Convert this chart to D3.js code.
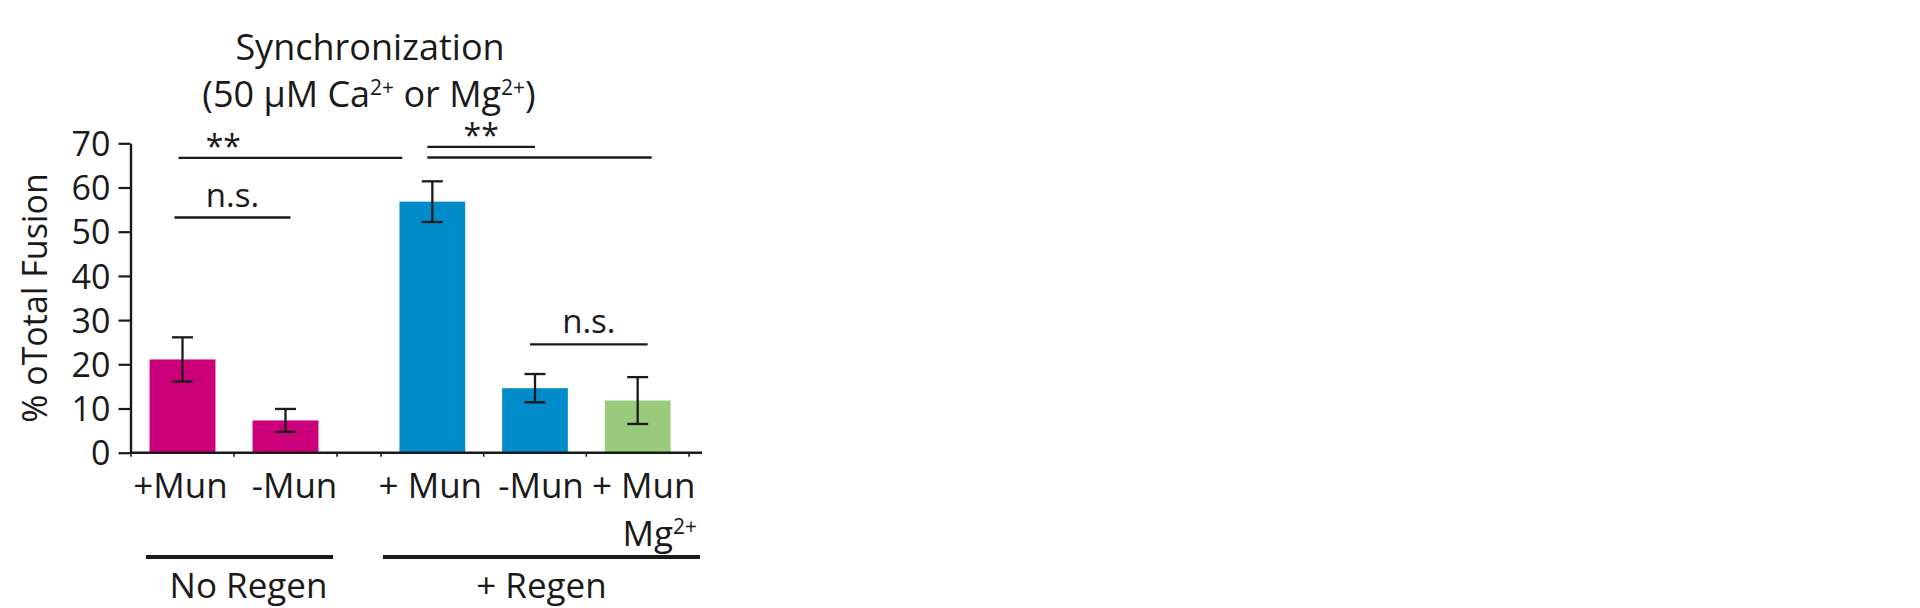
<!DOCTYPE html>
<html>
<head>
<meta charset="utf-8">
<script src="https://cdn.jsdelivr.net/npm/d3@7"></script>
<style>
  body { margin: 0; background: #fff; }
  text { font-family: "Open Sans", "Noto Sans", sans-serif; fill: #1a1a1a; }
</style>
</head>
<body>
<script>
// ---- data ----
const categories = ['+Mun', '-Mun', '+ Mun', '-Mun', '+ Mun'];
const groups     = ['No Regen', 'No Regen', '+ Regen', '+ Regen', '+ Regen'];
const conditions = ['ca', 'ca', 'caRegen', 'caRegen', 'mg'];
const values     = [21.1, 7.3, 56.8, 14.6, 11.8];   // % total fusion
const errors     = [5.0, 2.6, 4.6, 3.2, 5.3];
const groupNames = ['No Regen', '+ Regen'];
const yTicks     = [0, 10, 20, 30, 40, 50, 60, 70];

// significance brackets: bar index from / to, height (in % units), label
const sigFrom   = [0, 2, 2, 0, 3];
const sigTo     = [2, 3, 4, 1, 4];
const sigLevel  = [66.7, 69.2, 66.8, 53.2, 24.5];
const sigLabels = ['**', '**', '', 'n.s.', 'n.s.'];

// ---- layout ----
const W = 1920, H = 608;
const colors = { ca: '#cc007a', caRegen: '#008ccb', mg: '#9acb7c' };
const groupRange = { 'No Regen': [131, 337], '+ Regen': [381, 689] };
const sigPad = [[-4, -30], [-5, 0], [-5, 14], [-8, 5], [-5, 10]];  // line end nudges (px)
const sigLabelAt = [0.2, 0.5, 0.5, 0.5, 0.5];                        // label position along line
const labelNudge = [-2, 9, -2, 6, 6];
const groupLabelNudge = [9, 0];

const svg = d3.select('body').append('svg')
  .attr('width', W).attr('height', H);

const y = d3.scaleLinear().domain([0, 70]).range([452.7, 143.3]);

const idx = values.map((d, i) => i);
const xs = {};
groupNames.forEach(g => {
  xs[g] = d3.scaleBand()
    .domain(idx.filter(i => groups[i] === g))
    .range(groupRange[g])
    .paddingInner(0.36)
    .paddingOuter(0.18);
});
const bx = i => xs[groups[i]](i);
const bw = i => xs[groups[i]].bandwidth();
const cx = i => bx(i) + bw(i) / 2;

// ---- title ----
svg.append('text')
  .attr('x', 370).attr('y', 60)
  .attr('text-anchor', 'middle')
  .style('font-size', '36px')
  .text('Synchronization');

const sub = svg.append('text')
  .attr('x', 369).attr('y', 107)
  .attr('text-anchor', 'middle')
  .style('font-size', '36px');
sub.append('tspan').text('(50 \u03bcM Ca');
sub.append('tspan').attr('dy', -12).style('font-size', '21px').text('2+');
sub.append('tspan').attr('dy', 12).text(' or Mg');
sub.append('tspan').attr('dy', -12).style('font-size', '21px').text('2+');
sub.append('tspan').attr('dy', 12).text(')');

// ---- y axis ----
const yAxis = svg.append('g')
  .attr('transform', 'translate(130.5,0)')
  .call(d3.axisLeft(y).tickValues(yTicks).tickSize(12).tickPadding(8).tickSizeOuter(0));
yAxis.select('.domain').attr('stroke', '#1a1a1a').attr('stroke-width', 2.4);
yAxis.selectAll('.tick line').attr('stroke', '#1a1a1a').attr('stroke-width', 2.2);
yAxis.selectAll('.tick text')
  .style('font-family', '"Open Sans", sans-serif')
  .style('font-size', '34px')
  .attr('fill', '#1a1a1a')
  .attr('dy', '0.36em');

svg.append('text')
  .attr('transform', 'translate(47,298) rotate(-90)')
  .attr('text-anchor', 'middle')
  .style('font-size', '34px')
  .text('% oTotal Fusion');

// ---- bars ----
svg.selectAll('rect.bar')
  .data(idx)
  .enter().append('rect')
  .attr('class', 'bar')
  .attr('x', i => bx(i))
  .attr('width', i => bw(i))
  .attr('y', i => y(values[i]))
  .attr('height', i => y(0) - y(values[i]))
  .attr('fill', i => colors[conditions[i]]);

// ---- error bars ----
const capW = 21;
const eb = svg.append('g').attr('stroke', '#1a1a1a').attr('stroke-width', 2.3);
idx.forEach(i => {
  const top = y(values[i] + errors[i]), bot = y(values[i] - errors[i]);
  eb.append('line').attr('x1', cx(i)).attr('x2', cx(i)).attr('y1', top).attr('y2', bot);
  eb.append('line').attr('x1', cx(i) - capW / 2).attr('x2', cx(i) + capW / 2).attr('y1', top).attr('y2', top);
  eb.append('line').attr('x1', cx(i) - capW / 2).attr('x2', cx(i) + capW / 2).attr('y1', bot).attr('y2', bot);
});

// ---- x axis line with group-boundary ticks ----
svg.append('line')
  .attr('x1', 130.5).attr('x2', 702)
  .attr('y1', y(0)).attr('y2', y(0))
  .attr('stroke', '#1a1a1a').attr('stroke-width', 2.4);
groupNames.forEach(g => {
  const s = xs[g], step = s.step(), r = s.range();
  d3.range(s.domain().length + 1).forEach(k => {
    const tx = r[0] + k * step;
    svg.append('line')
      .attr('x1', tx).attr('x2', tx)
      .attr('y1', y(0)).attr('y2', y(0) + 4)
      .attr('stroke', '#1a1a1a').attr('stroke-width', 1.6);
  });
});

// ---- category labels ----
svg.selectAll('text.cat')
  .data(idx)
  .enter().append('text')
  .attr('class', 'cat')
  .attr('x', i => cx(i) + labelNudge[i])
  .attr('y', 498)
  .attr('text-anchor', 'middle')
  .style('font-size', '35px')
  .text(i => categories[i]);

const mg = svg.append('text')
  .attr('x', 697).attr('y', 546)
  .attr('text-anchor', 'end')
  .style('font-size', '35px');
mg.append('tspan').text('Mg');
mg.append('tspan').attr('dy', -12).style('font-size', '21px').text('2+');

// ---- group underlines and labels ----
groupNames.forEach((g, k) => {
  const r = xs[g].range();
  const x1 = r[0] + (k === 0 ? 15 : 2), x2 = r[1] + (k === 0 ? -4 : 11);
  svg.append('line')
    .attr('x1', x1).attr('x2', x2)
    .attr('y1', 557).attr('y2', 557)
    .attr('stroke', '#1a1a1a').attr('stroke-width', 4);
  svg.append('text')
    .attr('x', (x1 + x2) / 2 + groupLabelNudge[k]).attr('y', 598)
    .attr('text-anchor', 'middle')
    .style('font-size', '35px')
    .text(g);
});

// ---- significance brackets ----
sigFrom.forEach((f, k) => {
  const x1 = cx(f) + sigPad[k][0], x2 = cx(sigTo[k]) + sigPad[k][1];
  const ly = y(sigLevel[k]);
  svg.append('line')
    .attr('x1', x1).attr('x2', x2)
    .attr('y1', ly).attr('y2', ly)
    .attr('stroke', '#1a1a1a').attr('stroke-width', 2.4);
  if (sigLabels[k]) {
    const isStar = sigLabels[k] === '**';
    svg.append('text')
      .attr('x', x1 + (x2 - x1) * sigLabelAt[k])
      .attr('y', isStar ? ly : ly - 11)
      .attr('text-anchor', 'middle')
      .style('font-size', isStar ? '32px' : '33px')
      .text(sigLabels[k]);
  }
});
</script>
</body>
</html>
